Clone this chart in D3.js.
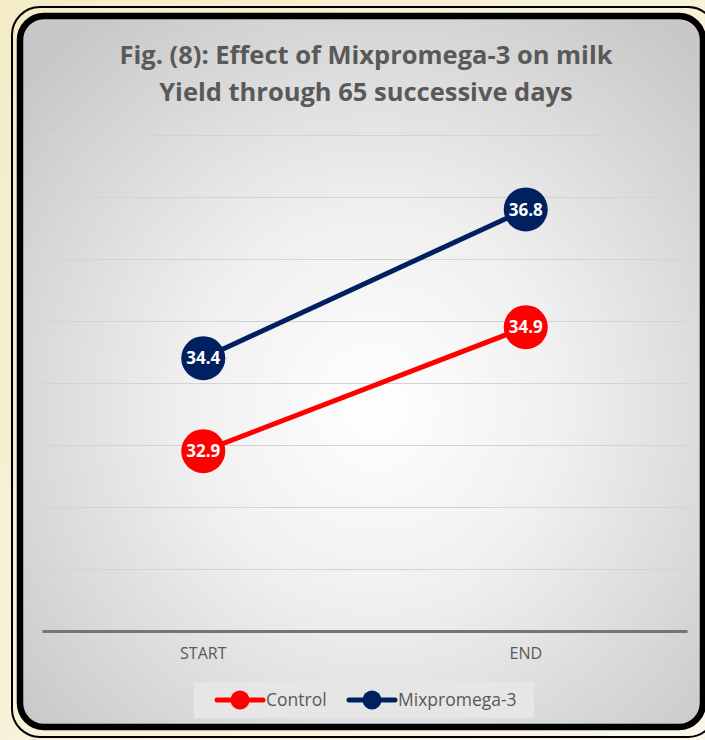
<!DOCTYPE html>
<html>
<head>
<meta charset="utf-8">
<script src="https://cdn.jsdelivr.net/npm/d3@7"></script>
<style>
  html, body { margin: 0; padding: 0; background: #f6efd3; }
  svg { display: block; }
</style>
</head>
<body>
<svg id="chart" width="705" height="740"></svg>
<script>
// chart data
var categories = ["START", "END"];
var seriesNames = ["Control", "Mixpromega-3"];
var controlValues = [32.9, 34.9];
var mixValues = [34.4, 36.8];
var seriesColors = ["#ff0000", "#002060"];
var yTicks = [30, 31, 32, 33, 34, 35, 36, 37, 38];
var titleLines = ["Fig. (8): Effect of Mixpromega-3 on milk", "Yield through 65 successive days"];

var svg = d3.select("#chart");
var defs = svg.append("defs");

var bg = defs.append("linearGradient").attr("id", "bgGrad")
    .attr("x1", "0").attr("y1", "0").attr("x2", "1").attr("y2", "1");
bg.append("stop").attr("offset", "0").attr("stop-color", "#f4ecc8");
bg.append("stop").attr("offset", "1").attr("stop-color", "#fbf7ea");

var rg = defs.append("radialGradient").attr("id", "plotGrad")
    .attr("cx", "0.52").attr("cy", "0.55").attr("r", "0.68");
rg.append("stop").attr("offset", "0").attr("stop-color", "#ffffff");
rg.append("stop").attr("offset", "0.4").attr("stop-color", "#f0f0f0");
rg.append("stop").attr("offset", "1").attr("stop-color", "#c8c8c8");

svg.append("rect").attr("width", 705).attr("height", 740).attr("fill", "url(#bgGrad)");

// outer thin frame and thick frame
svg.append("rect")
    .attr("x", 12).attr("y", 7).attr("width", 704).attr("height", 730)
    .attr("rx", 28).attr("fill", "none").attr("stroke", "#000").attr("stroke-width", 2);
svg.append("rect")
    .attr("x", 20).attr("y", 16).attr("width", 683).attr("height", 711)
    .attr("rx", 24).attr("fill", "url(#plotGrad)").attr("stroke", "#000").attr("stroke-width", 6.5);

// title
svg.append("g").selectAll("text")
    .data(titleLines)
    .enter().append("text")
    .attr("x", 366)
    .attr("y", function(d, i) { return 64 + i * 37; })
    .attr("text-anchor", "middle")
    .style("font-family", "'Open Sans', sans-serif")
    .style("font-weight", "bold")
    .style("font-size", "25.5px")
    .style("fill", "#595959")
    .text(function(d) { return d; });

var plotLeft = 42, plotRight = 687;
var x = d3.scaleBand().domain(categories).range([plotLeft, plotRight]);
var y = d3.scaleLinear().domain([30, 38]).range([631, 135]);

// gridlines
svg.append("g").selectAll("line")
    .data(yTicks.slice(1))
    .enter().append("line")
    .attr("x1", plotLeft).attr("x2", plotRight)
    .attr("y1", function(d) { return Math.round(y(d)) + 0.5; })
    .attr("y2", function(d) { return Math.round(y(d)) + 0.5; })
    .style("stroke", "#d3d3d3")
    .style("stroke-width", 1);

// x axis
var xAxis = svg.append("g")
    .attr("transform", "translate(0," + y(30) + ")")
    .call(d3.axisBottom(x).tickSize(0).tickPadding(17));
xAxis.select(".domain").attr("stroke", "#757575").attr("stroke-width", 3);
xAxis.selectAll("text")
    .style("font-family", "'Open Sans', sans-serif")
    .style("font-size", "16px")
    .style("fill", "#595959");

var series = [controlValues, mixValues];
var line = d3.line()
    .x(function(d, i) { return x(categories[i]) + x.bandwidth() / 2; })
    .y(function(d) { return y(d); });

series.forEach(function(vals, s) {
    svg.append("path")
        .datum(vals)
        .attr("d", line)
        .attr("fill", "none")
        .attr("stroke", seriesColors[s])
        .attr("stroke-width", 5);

    var pts = svg.append("g").selectAll("g")
        .data(vals)
        .enter().append("g")
        .attr("transform", function(d, i) {
            return "translate(" + (x(categories[i]) + x.bandwidth() / 2) + "," + y(d) + ")";
        });
    pts.append("circle").attr("r", 22).attr("fill", seriesColors[s]);
    pts.append("text")
        .attr("text-anchor", "middle")
        .attr("dy", "0.36em")
        .style("font-family", "'Open Sans', sans-serif")
        .style("font-weight", "bold")
        .style("font-size", "17px")
        .style("fill", "#ffffff")
        .text(function(d) { return d.toFixed(1); });
});

// legend
var legend = svg.append("g");
legend.append("rect")
    .attr("x", 194).attr("y", 682).attr("width", 340).attr("height", 36)
    .attr("fill", "#e6e6e6");
var legendX = [217, 349];
seriesNames.forEach(function(name, s) {
    var g = legend.append("g").attr("transform", "translate(" + legendX[s] + ",700)");
    g.append("line").attr("x1", 0).attr("x2", 46)
        .attr("stroke", seriesColors[s]).attr("stroke-width", 5).attr("stroke-linecap", "round");
    g.append("circle").attr("cx", 23).attr("r", 9.5).attr("fill", seriesColors[s]);
    g.append("text")
        .attr("x", 49).attr("dy", "0.35em")
        .style("font-family", "'Open Sans', sans-serif")
        .style("font-size", "17.5px")
        .style("fill", "#595959")
        .text(name);
});
</script>
</body>
</html>
